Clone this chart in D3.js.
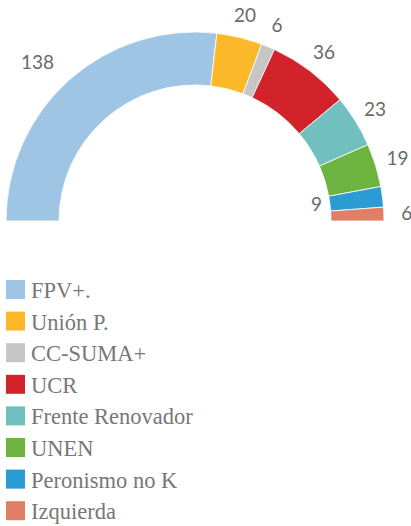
<!DOCTYPE html>
<html>
<head>
<meta charset="utf-8">
<script src="https://cdn.jsdelivr.net/npm/d3@7"></script>
<style>
  body { margin: 0; background: #fff; }
  svg { display: block; }
</style>
</head>
<body>
<div id="chart"></div>
<script>
// seats per bloc
const parties = ["FPV+.", "Unión P.", "CC-SUMA+", "UCR", "Frente Renovador", "UNEN", "Peronismo no K", "Izquierda"];
const seats = [138, 20, 6, 36, 23, 19, 9, 6];
const colors = ["#9fc5e5", "#fbb829", "#c6c6c6", "#d2232a", "#72bfbf", "#6db33f", "#2b9bd4", "#e07f68"];

const width = 411, height = 526;
const cx = 195, cy = 221;
const outerR = 189, innerR = 136, labelR = 212;

const svg = d3.select("#chart").append("svg")
    .attr("width", width)
    .attr("height", height);

const data = parties.map((p, i) => ({name: p, value: seats[i], color: colors[i]}));

const pie = d3.pie()
    .sort(null)
    .value(d => d.value)
    .startAngle(-Math.PI / 2)
    .endAngle(Math.PI / 2);

const arc = d3.arc()
    .innerRadius(innerR)
    .outerRadius(outerR);

const arcs = pie(data);

const g = svg.append("g").attr("transform", `translate(${cx},${cy})`);

g.selectAll("path").data(arcs)
    .enter()
    .append("path")
    .attr("d", arc)
    .attr("fill", d => d.data.color)
    .attr("stroke", "#fff")
    .attr("stroke-width", 0.8);

// value labels outside the ring (the small "9" sits inside)
g.selectAll("text.val").data(arcs)
    .enter()
    .append("text")
    .attr("class", "val")
    .each(function (d) {
        let a = (d.startAngle + d.endAngle) / 2;
        let inside = d.data.name === "Peronismo no K";
        let r = inside ? 128 : labelR;
        let x = r * Math.sin(a), y = -r * Math.cos(a);
        d3.select(this)
            .attr("x", x)
            .attr("y", y)
            .attr("dy", "0.35em")
            .attr("text-anchor", inside ? "end" : (a < 0 ? "end" : "middle"));
    })
    .text(d => d.value)
    .attr("fill", "#6a6a6a")
    .style("font-family", "Lato, 'Open Sans', sans-serif")
    .style("font-size", "19px");

// legend
const legend = svg.append("g").attr("transform", "translate(6,280)");
const rowH = 31.6;

legend.selectAll("rect").data(data)
    .enter()
    .append("rect")
    .attr("x", 0)
    .attr("y", (d, i) => i * rowH)
    .attr("width", 19)
    .attr("height", 19)
    .attr("fill", d => d.color);

legend.selectAll("text").data(data)
    .enter()
    .append("text")
    .attr("x", 25)
    .attr("y", (d, i) => i * rowH + 18)
    .text(d => d.name)
    .attr("fill", "#777")
    .style("font-family", "'Liberation Serif', serif")
    .style("font-size", "22.5px");
</script>
</body>
</html>
